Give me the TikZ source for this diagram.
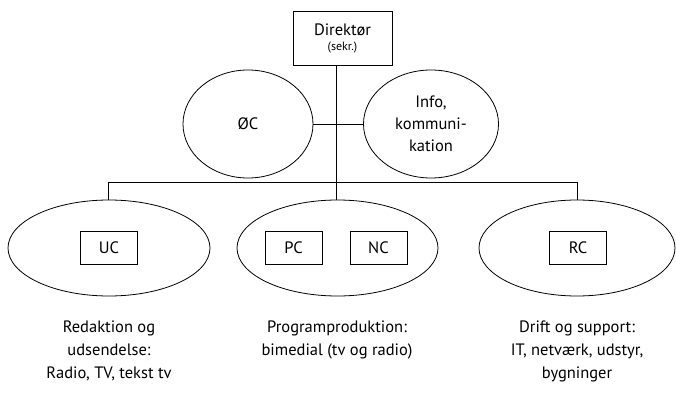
\documentclass[tikz,border=0pt]{standalone}
\usepackage{fontspec}
\setmainfont{PT Sans}
\usetikzlibrary{shapes.geometric}
\begin{document}
\begin{tikzpicture}[x=1pt,y=-1pt,line width=0.8pt,
  oval/.style={draw,ellipse,inner sep=0pt,align=center,font=\fontsize{16.5}{22}\selectfont},
  unit/.style={draw,minimum width=57pt,minimum height=33pt,inner sep=0pt,font=\fontsize{16.5}{18}\selectfont},
  caption/.style={align=center,font=\fontsize{16.5}{23}\selectfont,anchor=north}]
\useasboundingbox (0,0) rectangle (676,395);
\node[draw,minimum width=99pt,minimum height=54pt,inner sep=0pt,align=center] (dir) at (342.5,38)
  {\fontsize{16.5}{18}\selectfont Direktør\\[3pt]\fontsize{12}{14}\selectfont (sekr.)};
\node[oval,minimum width=130pt,minimum height=108pt] (oc) at (248,124) {ØC};
\node[oval,minimum width=135pt,minimum height=108pt] (info) at (431,124) {Info,\\kommuni-\\kation};
\node[oval,minimum width=202pt,minimum height=96pt] (u) at (109,248) {};
\node[oval,minimum width=201pt,minimum height=96pt] (p) at (337.5,248) {};
\node[oval,minimum width=196pt,minimum height=96pt] (r) at (577,248) {};
\node[unit] (uc) at (109,248) {UC};
\node[unit] (pc) at (293.5,248) {PC};
\node[unit] (nc) at (378.5,248) {NC};
\node[unit] (rc) at (578,248) {RC};
\coordinate (top) at (336,65);
\coordinate (bus) at (336,182);
\coordinate (busl) at (108,182);
\coordinate (busr) at (577,182);
\draw (top) -- (bus);
\draw (oc.east) -- (info.west);
\draw (busl) -- (busr);
\draw (busl) -- (busl |- u.north);
\draw (bus) -- (bus |- p.north);
\draw (busr) -- (busr |- r.north);
\node[caption] (tu) at (109,317) {Redaktion og\\udsendelse:\\Radio, TV, tekst tv};
\node[caption] (tp) at (337,317) {Programproduktion:\\bimedial (tv og radio)};
\node[caption] (tr) at (577,317) {Drift og support:\\IT, netværk, udstyr,\\bygninger};
\end{tikzpicture}
\end{document}
